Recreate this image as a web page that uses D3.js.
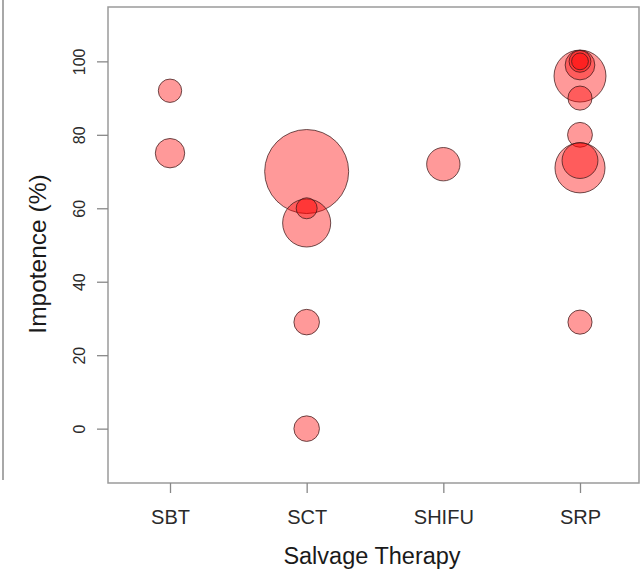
<!DOCTYPE html>
<html>
<head>
<meta charset="utf-8">
<script src="https://cdn.jsdelivr.net/npm/d3@7"></script>
<style>
  html, body { margin: 0; padding: 0; background: #fff; }
  svg { display: block; font-family: "Liberation Sans", Arial, Helvetica, sans-serif; }
</style>
</head>
<body>
<svg id="chart" width="640" height="575"></svg>
<script>
// ---- data ----
const categories = ["SBT", "SCT", "SHIFU", "SRP"];
const therapy  = ["SBT","SBT","SCT","SCT","SCT","SCT","SCT","SHIFU","SRP","SRP","SRP","SRP","SRP","SRP","SRP","SRP","SRP"];
const impotence = [92, 75, 70, 56, 60, 29, 0, 72, 96, 99, 100, 100, 90, 80, 71, 73, 29];
const patients  = [31, 49, 400, 131, 25, 37, 37, 63, 153, 50, 27, 16, 33, 35, 142, 73, 33];
const yTicks = [0, 20, 40, 60, 80, 100];
const xTitle = "Salvage Therapy";
const yTitle = "Impotence (%)";

// ---- layout ----
const svg = d3.select("#chart");
const plotLeft = 108, plotRight = 639, plotTop = 7, plotBottom = 483;

const x = d3.scalePoint().domain(categories).range([plotLeft, plotRight + 3]).padding(0.4537);
const y = d3.scaleLinear().domain([-14.8, 114.8]).range([plotBottom, plotTop]);
const r = d3.scaleSqrt().domain([0, 400]).range([0, 42]);

// outer stray frame line at left
svg.append("line")
  .attr("x1", 3).attr("x2", 3).attr("y1", 0).attr("y2", 480)
  .attr("stroke", "#a8a8a8").attr("stroke-width", 2);

// plot box
svg.append("rect")
  .attr("x", plotLeft).attr("y", plotTop)
  .attr("width", plotRight - plotLeft).attr("height", plotBottom - plotTop)
  .attr("fill", "none").attr("stroke", "#9a9a9a").attr("stroke-width", 1.5);

// bubbles
const pts = impotence.map((v, i) => ({ cat: therapy[i], v, n: patients[i] }));
svg.append("g").selectAll("circle")
  .data(pts)
  .join("circle")
  .attr("cx", d => x(d.cat))
  .attr("cy", d => y(d.v))
  .attr("r", d => r(d.n))
  .attr("fill", "rgba(255,0,0,0.4)")
  .attr("stroke", "rgba(60,25,25,0.75)")
  .attr("stroke-width", 1);

// y axis
const yAxis = d3.axisLeft(y).tickValues(yTicks).tickSize(11).tickFormat(d3.format("d"));
const gy = svg.append("g").attr("transform", `translate(${plotLeft},0)`).call(yAxis);
gy.select(".domain").remove();
gy.selectAll(".tick line").attr("stroke", "#888").attr("stroke-width", 1.3);
gy.selectAll(".tick text")
  .attr("x", 0).attr("dy", null)
  .attr("text-anchor", "middle")
  .attr("transform", "translate(-23,0) rotate(-90)")
  .attr("font-size", 16)
  .attr("fill", "#2a2a2a");

// x axis
const xAxis = d3.axisBottom(x).tickSize(10);
const gx = svg.append("g").attr("transform", `translate(0,${plotBottom})`).call(xAxis);
gx.select(".domain").remove();
gx.selectAll(".tick line").attr("stroke", "#888").attr("stroke-width", 1.3);
gx.selectAll(".tick text")
  .attr("y", 41).attr("dy", null)
  .attr("font-size", 20)
  .attr("fill", "#2a2a2a");

// axis titles
svg.append("text")
  .attr("x", 372).attr("y", 564)
  .attr("text-anchor", "middle")
  .attr("font-size", 23.5)
  .attr("fill", "#1a1a1a")
  .text(xTitle);

svg.append("text")
  .attr("transform", "translate(46,254) rotate(-90)")
  .attr("text-anchor", "middle")
  .attr("font-size", 24.5)
  .attr("fill", "#1a1a1a")
  .text(yTitle);
</script>
</body>
</html>
